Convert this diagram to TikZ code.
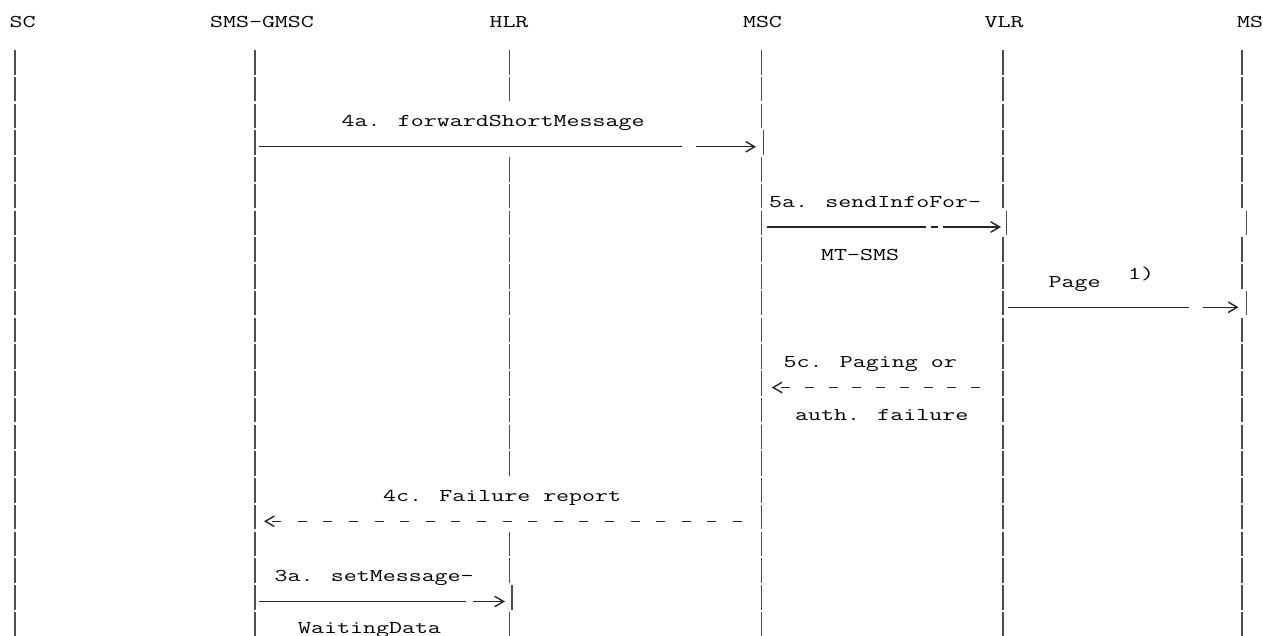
\documentclass[tikz,border=0pt]{standalone}
\usepackage{graphicx}
\usetikzlibrary{arrows.meta}
\newcommand\mtxt[1]{\scalebox{1.40}[1]{#1}}
\begin{document}
\begin{tikzpicture}[x=1pt,y=-1pt,
  lbl/.style={font=\fontsize{18}{20}\selectfont\ttfamily, inner sep=0pt, text=black},
  head/.style={lbl, anchor=base},
  note/.style={lbl, anchor=base west},
  pipe/.style={draw=black!70, line width=1.25pt},
  msg/.style={draw=black!85, line width=1.4pt, -{Straight Barb[length=9pt,width=10.5pt]}},
]
\fill[white] (0,0) rectangle (1263,635);
\useasboundingbox (0,0) rectangle (1263,635);

% headers
\node[head] (sc)   at (22.5,27) {\mtxt{SC}};
\node[head] (gmsc) at (262,27)  {\mtxt{SMS-GMSC}};
\node[head] (hlr)  at (509,27)  {\mtxt{HLR}};
\node[head] (msc)  at (762.5,27) {\mtxt{MSC}};
\node[head] (vlr)  at (1004,27) {\mtxt{VLR}};
\node[head] (ms)   at (1250,27) {\mtxt{MS}};

% lifelines drawn as rows of bars
\foreach \r in {0,...,21} {\draw[pipe] (15,{50+26.75*\r}) -- ++(0,24.5);}
\foreach \r in {0,...,21} {\draw[pipe] (255,{50+26.75*\r}) -- ++(0,24.5);}
\foreach \r in {0,1,4,5,...,15,18,19,21} {\draw[pipe] (509.5,{50+26.75*\r}) -- ++(0,24.5);}
\draw[pipe] (512,{50+26.75*20}) -- ++(0,24.5);
\foreach \r in {0,1,2,4,5,...,21} {\draw[pipe] (761.5,{50+26.75*\r}) -- ++(0,24.5);}
\draw[pipe] (763.5,{50+26.75*3}) -- ++(0,24.5);
\foreach \r in {0,...,5,7,8,...,21} {\draw[pipe] (1003,{50+26.75*\r}) -- ++(0,24.5);}
\draw[pipe] (1006.5,{50+26.75*6}) -- ++(0,24.5);
\foreach \r in {0,...,5,7,8,10,11,...,21} {\draw[pipe] (1242,{50+26.75*\r}) -- ++(0,24.5);}
\foreach \r in {6,9} {\draw[pipe] (1246.5,{50+26.75*\r}) -- ++(0,24.5);}

% labels
\node[note] (t4a)  at (341.5,126.5) {\mtxt{4a. forwardShortMessage}};
\node[note] (t5a)  at (769,207.5)   {\mtxt{5a. sendInfoFor-}};
\node[note] (t5a2) at (821,260)     {\mtxt{MT-SMS}};
\node[note] (tpg)  at (1048.5,287)  {\mtxt{Page}};
\node[note] (tfn)  at (1128,279)    {\mtxt{1)}};
\node[note] (t5c)  at (783.5,367)   {\mtxt{5c. Paging or}};
\node[note] (t5c2) at (795,420.5)   {\mtxt{auth. failure}};
\node[note] (t4c)  at (383,501)     {\mtxt{4c. Failure report}};
\node[note] (t3a)  at (274.5,581)   {\mtxt{3a. setMessage-}};
\node[note] (t3a2) at (298,633.5)   {\mtxt{WaitingData}};

% message end points
\coordinate (m4a-s) at (259,146.75);   \coordinate (m4a-e) at (756,146.75);
\coordinate (m5a-s) at (767,227);      \coordinate (m5a-e) at (1001,227);
\coordinate (mpg-s) at (1007.5,307.25);\coordinate (mpg-e) at (1238.5,307.25);
\coordinate (m5c-s) at (980,387.5);    \coordinate (m5c-e) at (771.7,387.5);
\coordinate (m4c-s) at (742,521.25);   \coordinate (m4c-e) at (264,521.25);
\coordinate (m3a-s) at (259,601.5);    \coordinate (m3a-e) at (505,601.5);

% messages
\draw[msg, dash pattern=on 422.7pt off 14.3pt on 400pt off 1pt] (m4a-s) -- (m4a-e);
\draw[msg, dash pattern=on 158.6pt off 5.4pt on 7pt off 5pt on 300pt off 1pt] (m5a-s) -- (m5a-e);
\draw[msg, dash pattern=on 181.5pt off 13.7pt on 300pt off 1pt] (mpg-s) -- (mpg-e);
\draw[msg, dash pattern=on 9pt off 14.75pt] (m5c-s) -- (m5c-e);
\draw[msg, dash pattern=on 9pt off 16.6pt] (m4c-s) -- (m4c-e);
\draw[msg, dash pattern=on 206.8pt off 7.2pt on 300pt off 1pt] (m3a-s) -- (m3a-e);
\end{tikzpicture}
\end{document}
